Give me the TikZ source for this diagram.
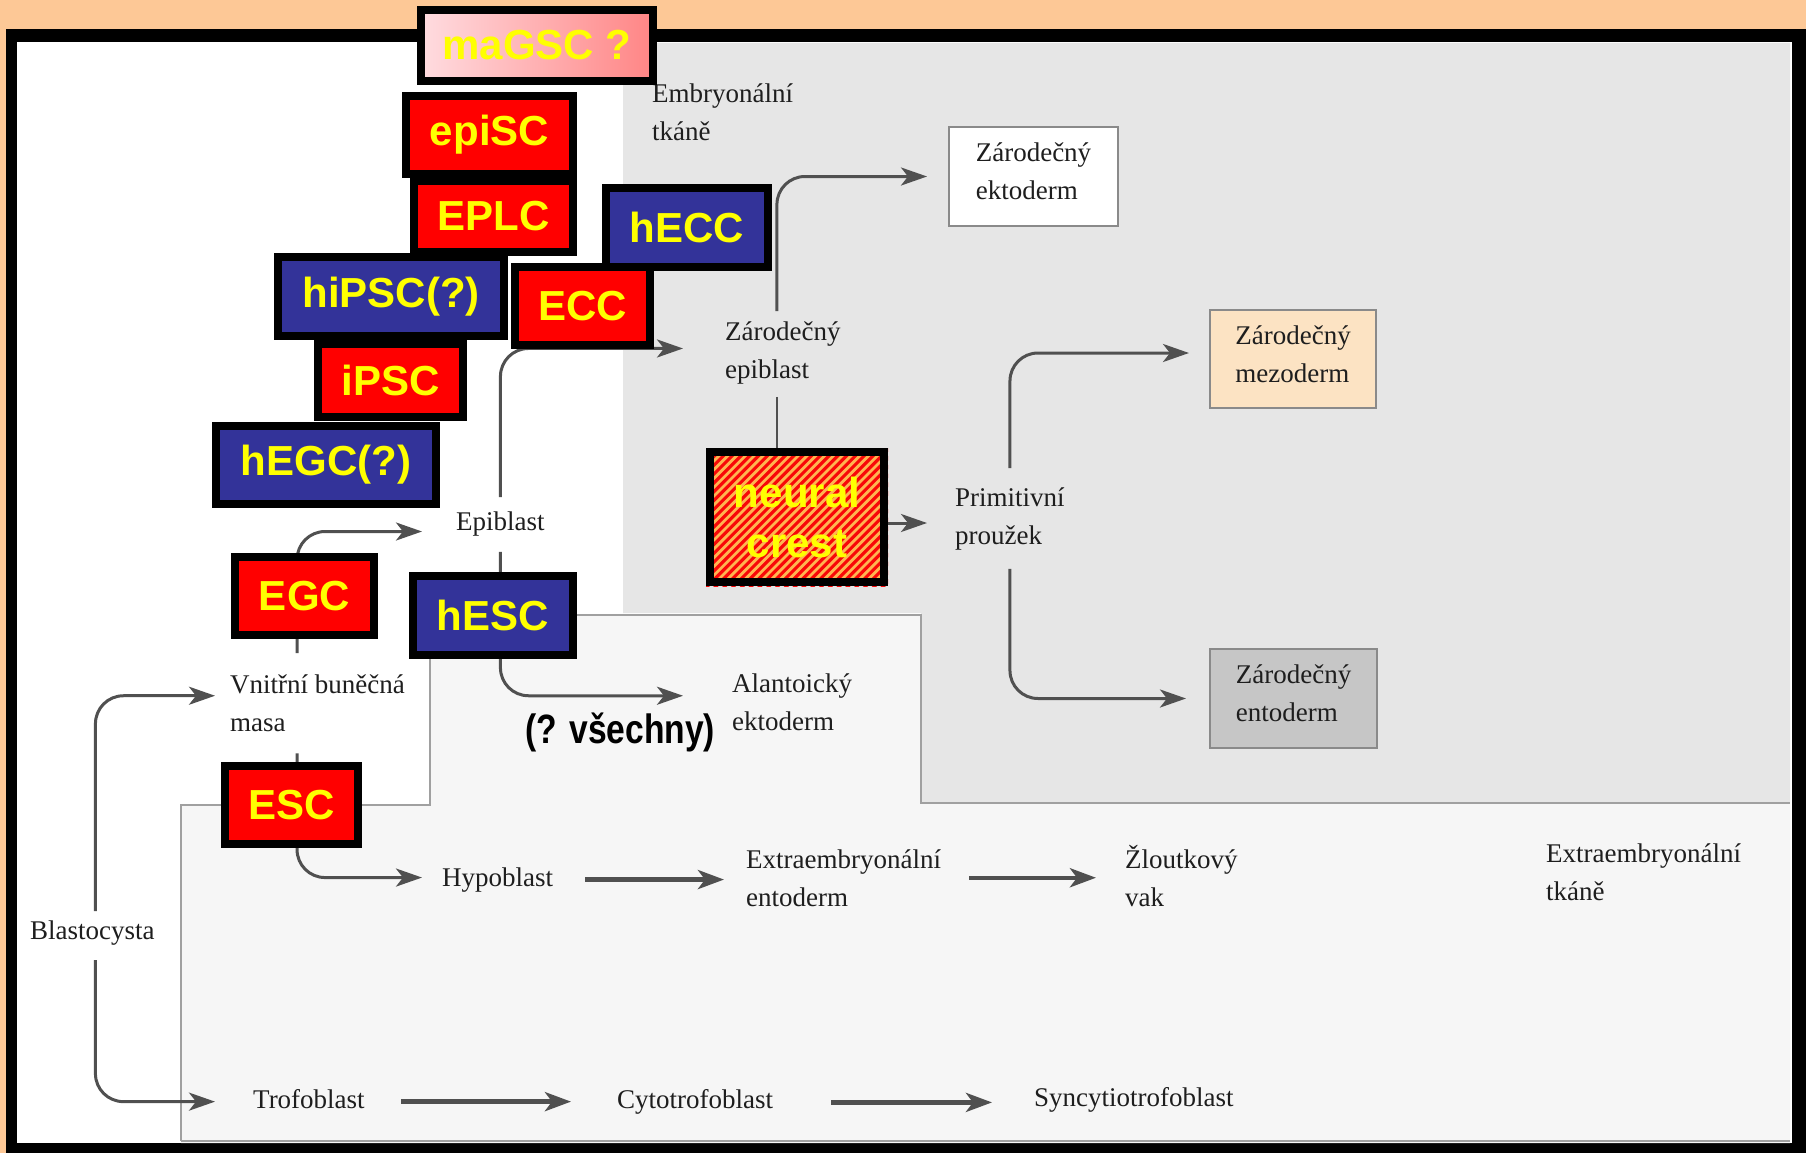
\documentclass[tikz,border=0pt]{standalone}
\usepackage{fontspec}
\setmainfont{Liberation Serif}
\newfontfamily\cellsans{Liberation Sans}
\usetikzlibrary{arrows.meta}
\definecolor{bgorange}{HTML}{FDC896}
\definecolor{scangrey}{HTML}{E6E6E6}
\definecolor{scanlight}{HTML}{F6F6F6}
\definecolor{outlinegrey}{HTML}{A0A0A0}
\definecolor{arrowc}{HTML}{505050}
\definecolor{labelc}{HTML}{1E1E1E}
\definecolor{cellred}{HTML}{FF0000}
\definecolor{cellblue}{HTML}{333399}
\definecolor{cellyellow}{HTML}{FFFF00}
\definecolor{pinkL}{HTML}{FFDCE0}
\definecolor{pinkR}{HTML}{FF8585}
\definecolor{stripeorange}{HTML}{FFB450}
\definecolor{stripered}{HTML}{F80808}
\definecolor{mezofill}{HTML}{FCE3C3}
\definecolor{entofill}{HTML}{C6C6C6}
\definecolor{boxgrey}{HTML}{8A8A8A}
\newcommand\lblfont{\fontsize{27pt}{38pt}\selectfont}
\newcommand\cellfont{\cellsans\bfseries\fontsize{42pt}{50pt}\selectfont}
\pgfdeclarelayer{back}
\pgfdeclarelayer{conn}
\pgfsetlayers{back,conn,main}
\tikzset{
  lbl/.style={font=\lblfont, inner sep=0pt, anchor=base west, align=left, text=labelc},
  cellbox/.style={draw=black, line width=8pt, inner sep=0pt, font=\cellfont, text=cellyellow, align=center},
  redbox/.style={cellbox, fill=cellred},
  bluebox/.style={cellbox, fill=cellblue},
  germbox/.style={draw=boxgrey, line width=2pt, inner sep=0pt},
  germtext/.style={font=\lblfont, align=left, text=labelc, inner sep=0pt, yshift=5pt},
  conn/.style={draw=arrowc, line width=3pt, rounded corners=28pt, -{Stealth[length=26pt,width=18pt,inset=7pt]}},
  bigarrow/.style={draw=arrowc, line width=4.5pt, -{Stealth[length=26pt,width=19pt,inset=7pt]}},
  plainline/.style={draw=arrowc, line width=2.5pt}
}
\begin{document}
\begin{tikzpicture}[x=1pt,y=-1pt]
\useasboundingbox (0,0) rectangle (1806,1153);
\begin{pgfonlayer}{back}
  \fill[bgorange] (0,0) rectangle (1806,1153);
  \fill[black] (6,29) rectangle (1806,1153);
  \fill[white] (17,42) rectangle (1792,1143);
  \fill[scanlight] (181,1143) -- (181,805) -- (430,805) -- (430,615) -- (921,615) -- (921,803) -- (1790,803) -- (1790,1143) -- cycle;
  \fill[scangrey] (623,43) -- (1790,43) -- (1790,803) -- (921,803) -- (921,613) -- (623,613) -- cycle;
  \draw[outlinegrey, line width=2pt] (181,1141) -- (181,805) -- (430,805) -- (430,615) -- (921,615) -- (921,803) -- (1790,803);
  \draw[outlinegrey, line width=2pt] (181,1141) -- (1790,1141);
\end{pgfonlayer}

% text labels (two-line labels: base = last line)
\node[lbl] (embt) at (652,141) {Embryonální\\tkáně};
\node[lbl] (zepi) at (725,378) {Zárodečný\\epiblast};
\node[lbl] (epi) at (456,530) {Epiblast};
\node[lbl] (prim) at (955,544) {Primitivní\\proužek};
\node[lbl] (alan) at (732,730) {Alantoický\\ektoderm};
\node[lbl] (vbm) at (230,731) {Vnitřní buněčná\\masa};
\node[lbl] (hypo) at (442,886) {Hypoblast};
\node[lbl] (exent) at (746,906) {Extraembryonální\\entoderm};
\node[lbl] (zlout) at (1125,906) {Žloutkový\\vak};
\node[lbl] (extk) at (1546,900) {Extraembryonální\\tkáně};
\node[lbl] (blast) at (30,939) {Blastocysta};
\node[lbl] (trof) at (253,1108) {Trofoblast};
\node[lbl] (cyto) at (617,1108) {Cytotrofoblast};
\node[lbl] (sync) at (1034,1106) {Syncytiotrofoblast};
\node[font=\cellsans\bfseries\fontsize{41pt}{48pt}\selectfont, inner sep=0pt, anchor=base west, text=black] (vsech) at (525,743) {\scalebox{0.82}[1]{(? všechny)}};

% germ layer boxes
\node[germbox, fill=white, minimum width=169pt, minimum height=99pt,
      label={[germtext]center:Zárodečný\\ektoderm}] (zekt) at (1033.5,176.5) {};
\node[germbox, fill=mezofill, minimum width=166pt, minimum height=98pt,
      label={[germtext]center:Zárodečný\\mezoderm}] (zmez) at (1293,359) {};
\node[germbox, fill=entofill, minimum width=167pt, minimum height=99pt,
      label={[germtext]center:Zárodečný\\entoderm}] (zent) at (1293.5,698.5) {};

% neural crest (striped)
\fill[stripeorange] (706,448) rectangle (888,586);
\begin{scope}
  \clip (706,448) rectangle (888,586);
  \foreach \c in {0,...,38} {
    \draw[stripered, line width=3.1pt] ({700+\c*8.8},444) -- ({700+\c*8.8-146},590);
  }
\end{scope}
\node[cellbox, minimum width=174pt, minimum height=130pt] (nc) at (797,517) {neural\\crest};

% stem cell boxes
\node[cellbox, left color=pinkL, right color=pinkR, minimum width=232pt, minimum height=71pt] (magsc) at (537,45.5) {maGSC ?};
\node[redbox, minimum width=167pt, minimum height=78pt] (episc) at (489.5,135) {epiSC};
\node[redbox, minimum width=159pt, minimum height=71pt] (eplc) at (493.5,216.5) {EPLC};
\node[bluebox, minimum width=162pt, minimum height=79pt] (hecc) at (687,227.5) {hECC};
\node[bluebox, minimum width=226pt, minimum height=79pt] (hipsc) at (391,296.5) {hiPSC(?)};
\node[redbox, minimum width=135pt, minimum height=78pt] (ecc) at (582.5,306) {ECC};
\node[redbox, minimum width=145pt, minimum height=73pt] (ipsc) at (390.5,380.5) {iPSC};
\node[bluebox, minimum width=220pt, minimum height=78pt] (hegc) at (326,465) {hEGC(?)};
\node[redbox, minimum width=139pt, minimum height=78pt] (egc) at (304.5,596) {EGC};
\node[bluebox, minimum width=160pt, minimum height=79pt] (hesc) at (493,615.5) {hESC};
\node[redbox, minimum width=133pt, minimum height=78pt] (esc) at (291.5,805) {ESC};

% helper coordinates
\coordinate (zepiS) at ([xshift=-6pt,yshift=-13pt]zepi.south);
\coordinate (ncE) at ([yshift=-6pt]nc.east);
\coordinate (exE) at (exent.east);
\coordinate (trE) at ([yshift=-3pt]trof.east);
\coordinate (cyE) at ([yshift=-1pt]cyto.east);

% connectors
\begin{pgfonlayer}{conn}
  \draw[conn] ([yshift=14pt]epi.north) |- ([xshift=-42pt,yshift=4pt]zepi.west);
  \draw[conn] ([xshift=-6pt,yshift=10pt]zepi.north) |- ([xshift=-21pt]zekt.west);
  \draw[plainline] (zepiS) -- (zepiS |- nc.north);
  \draw[conn] (ncE) -- (ncE -| prim.west) [shorten >=28pt];
  \draw[conn] ([yshift=19pt]prim.north) |- ([xshift=-20pt,yshift=6pt]zmez.west);
  \draw[conn] ([yshift=-19pt]prim.south) |- ([xshift=-23pt]zent.west);
  \draw[conn] ([yshift=-16pt]epi.south) |- ([xshift=-49pt,yshift=6pt]alan.west);
  \draw[conn] ([xshift=-20.5pt,yshift=21pt]vbm.north) |- ([xshift=-34pt,yshift=-8pt]epi.west);
  \draw[conn] ([xshift=3pt,yshift=9pt]blast.north) |- ([xshift=-15pt,yshift=7pt]vbm.west);
  \draw[conn] ([xshift=3pt,yshift=-15pt]blast.south) |- ([xshift=-38pt,yshift=-3pt]trof.west);
  \draw[conn] ([xshift=-20.5pt,yshift=-22pt]vbm.south) |- ([xshift=-20pt,yshift=2pt]hypo.west);
  \draw[bigarrow, shorten <=32pt, shorten >=22pt] (hypo.east) -- (hypo.east -| exent.west);
  \draw[bigarrow, shorten <=28pt, shorten >=29pt] (exE) -- (exE -| zlout.west);
  \draw[bigarrow, shorten <=36pt, shorten >=46pt] (trE) -- (trE -| cyto.west);
  \draw[bigarrow, shorten <=58pt, shorten >=42pt] (cyE) -- (cyE -| sync.west);
\end{pgfonlayer}
\end{tikzpicture}
\end{document}
